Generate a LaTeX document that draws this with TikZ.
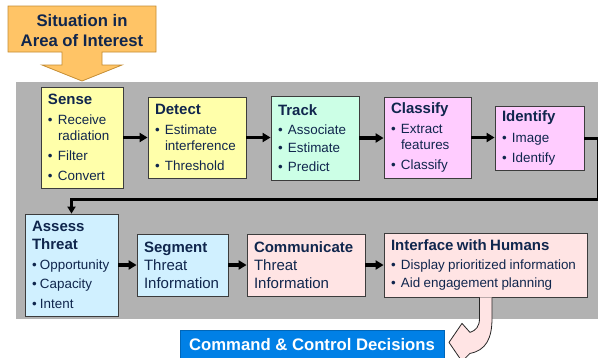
\documentclass[tikz,border=0pt]{standalone}
\usepackage{fontspec}
\setmainfont{Liberation Sans}
\usetikzlibrary{arrows.meta,calc}
\definecolor{navy}{RGB}{16,38,77}
\definecolor{yelc}{RGB}{255,255,170}
\definecolor{mintc}{RGB}{204,255,230}
\definecolor{magc}{RGB}{255,204,255}
\definecolor{cyanc}{RGB}{208,240,255}
\definecolor{pinkc}{RGB}{255,228,228}
\definecolor{cmdblue}{RGB}{0,128,230}
\definecolor{orangec}{RGB}{255,196,102}
\definecolor{orangeline}{RGB}{196,140,50}
\definecolor{graybg}{RGB}{178,178,178}
\definecolor{boxline}{RGB}{60,60,60}
\newcommand\ttlfont{\fontsize{15}{18}\selectfont\bfseries}
\newcommand\bdyfont{\fontsize{13.4}{15.6}\selectfont\setlength\parskip{4.5pt}}
\newcommand\bigbody{\fontsize{15}{18}\selectfont}
\newcommand\bitem[2][10pt]{\par\noindent\hangindent=#1\hangafter=1\makebox[#1][l]{\textbullet}#2\par}
\tikzset{
  box/.style={draw=boxline, line width=0.8pt, text=navy, align=left,
    inner xsep=7pt, inner ysep=0pt, anchor=center},
  conn/.style={line width=3.2pt, -{Triangle[length=8pt,width=9pt]}},
  retconn/.style={line width=3pt, -{Triangle[length=7pt,width=8pt]}},
}
\begin{document}
\begin{tikzpicture}[x=1pt,y=-1pt]
\useasboundingbox (0,0) rectangle (598,357);
% gray background
\fill[graybg] (16,82) rectangle (598,319);
% top orange arrow
\filldraw[fill=orangec, draw=orangeline, line width=0.8pt]
  (8,6) -- (156,6) -- (156,52) -- (102,52) -- (102,65) -- (122,65) -- (82,81)
  -- (42,65) -- (62,65) -- (62,52) -- (8,52) -- cycle;
\node[text=navy, align=center, font=\fontsize{16.7}{20}\selectfont\bfseries] (sit) at (82,31)
  {Situation in\\Area of Interest};
% top row
\node[box, fill=yelc, minimum width=82pt, minimum height=101pt, text width=68pt] (sense) at (82,137.5)
  {{\ttlfont Sense\par}\bdyfont\bitem{Receive\newline radiation}\bitem{Filter}\bitem{Convert}};
\node[box, fill=yelc, minimum width=98pt, minimum height=81pt, text width=84pt] (detect) at (197,137.5)
  {{\ttlfont Detect\par}\bdyfont\bitem{Estimate\newline interference}\bitem{Threshold}};
\node[box, fill=mintc, minimum width=88pt, minimum height=84pt, text width=74pt] (track) at (315,138)
  {{\ttlfont Track\par}\bdyfont\setlength\parskip{3pt}\bitem{Associate}\bitem{Estimate}\bitem{Predict}};
\node[box, fill=magc, minimum width=87pt, minimum height=81pt, text width=73pt] (classify) at (427.5,137.5)
  {{\ttlfont Classify\par}\bdyfont\bitem{Extract\newline features}\bitem{Classify}};
\node[box, fill=magc, minimum width=89pt, minimum height=64pt, text width=75pt] (identify) at (539.5,138)
  {{\ttlfont Identify\par}\bdyfont\bitem{Image}\bitem{Identify}};
% bottom row
\node[box, fill=cyanc, minimum width=93pt, minimum height=102pt, text width=79pt] (assess) at (71.5,265)
  {{\ttlfont Assess\newline Threat\par}\bdyfont\setlength\parskip{4pt}\bitem[8pt]{Opportunity}\bitem[8pt]{Capacity}\bitem[8pt]{Intent}};
\node[box, fill=cyanc, minimum width=91pt, minimum height=62pt, text width=77pt] (segment) at (182.5,265)
  {{\ttlfont Segment\par}\bigbody Threat\newline Information\par};
\node[box, fill=pinkc, minimum width=118pt, minimum height=62pt, text width=104pt] (commun) at (306,265)
  {{\ttlfont Communicate\par}\bigbody Threat\newline Information\par};
\node[box, fill=pinkc, minimum width=203pt, minimum height=64pt, text width=189pt] (iface) at (485.5,265)
  {{\ttlfont Interface with Humans\par}\bdyfont\setlength\parskip{3pt}\bitem{Display prioritized information}\bitem{Aid engagement planning}};
% command box
\node[fill=cmdblue, draw=cmdblue!80!black, line width=0.6pt, text=white, minimum width=264pt, minimum height=30pt,
  inner sep=0pt, font=\fontsize{16.7}{20}\selectfont\bfseries] (cmd) at (312,345) {Command \& Control Decisions};
% connectors
\draw[conn] (sense.east) -- (sense.east -| detect.west);
\draw[conn] (detect.east) -- (detect.east -| track.west);
\draw[conn] (track.east) -- (track.east -| classify.west);
\draw[conn] (classify.east) -- (classify.east -| identify.west);
\coordinate (r1) at (598.5,138);
\coordinate (r2) at (598.5,199);
\draw[retconn] (identify.east) -- (r1) -- (r2) -| (assess.north);
\draw[conn] (assess.east |- segment.west) -- (segment.west);
\draw[conn] (segment.east) -- (commun.west);
\draw[conn] (commun.east) -- (iface.west);
% curved hollow arrow from interface to command
\begin{scope}[shift={(iface.south)}]
\filldraw[fill=pinkc, draw=black!85, line width=0.8pt]
  (-6,0) -- (-6,21) .. controls (-6,29) and (-9.5,33) .. (-15.5,35)
  -- (-23.5,26) -- (-36.5,45) -- (-23.5,64) -- (-15.5,56)
  .. controls (0.5,53) and (6.5,41) .. (6.5,21) -- (6.5,0);
\end{scope}
\end{tikzpicture}
\end{document}
